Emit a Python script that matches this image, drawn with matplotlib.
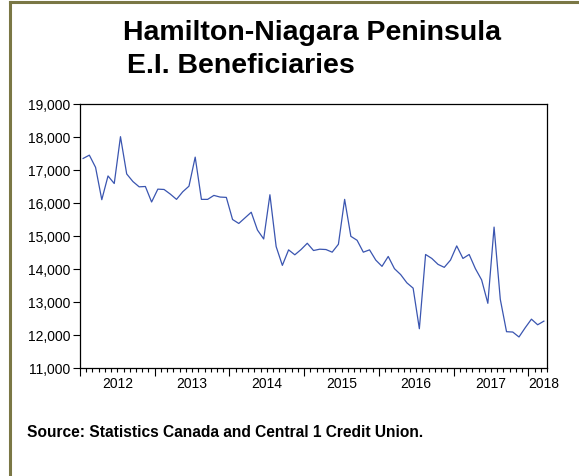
import numpy as np
import pandas as pd
import matplotlib
matplotlib.use("Agg")
import matplotlib.pyplot as plt
from matplotlib.lines import Line2D
from matplotlib.ticker import FuncFormatter, MultipleLocator
import matplotlib.transforms as mtransforms

plt.rcParams['font.family'] = ['Liberation Sans', 'DejaVu Sans']

# monthly E.I. beneficiaries, Jan 2012 - Mar 2018
y2012 = [17350, 17450, 17080, 16100, 16820, 16590, 18010, 16880, 16650, 16490, 16500, 16030]
y2013 = [16420, 16410, 16270, 16110, 16340, 16510, 17390, 16110, 16110, 16230, 16180, 16170]
y2014 = [15500, 15380, 15550, 15720, 15180, 14910, 16250, 14680, 14110, 14580, 14430, 14590]
y2015 = [14780, 14560, 14600, 14590, 14510, 14750, 16110, 14990, 14870, 14510, 14580, 14270]
y2016 = [14080, 14380, 14010, 13830, 13580, 13420, 12190, 14440, 14320, 14140, 14050, 14270]
y2017 = [14700, 14320, 14440, 14010, 13670, 12960, 15270, 13080, 12100, 12090, 11940, 12220]
y2018 = [12480, 12310, 12420]
values = y2012 + y2013 + y2014 + y2015 + y2016 + y2017 + y2018

months = pd.period_range("2012-01", periods=len(values), freq="M")
# each observation drawn in the middle of its month
x = months.year + (months.month - 0.5) / 12.0

year_labels = ["2012", "2013", "2014", "2015", "2016", "2017", "2018"]

fig = plt.figure(figsize=(5.79, 4.77), dpi=100)
ax = fig.add_axes([80/579, 108/477, 467/579, 264/477])

ax.plot(x, values, color="#3a55b0", lw=0.9)

ax.set_xlim(2012, 2012 + len(values) / 12.0)
ax.set_ylim(11000, 19000)
ax.yaxis.set_major_locator(MultipleLocator(1000))
ax.yaxis.set_major_formatter(FuncFormatter(lambda v, p: f"{int(v):,}"))
ax.tick_params(axis="y", direction="out", length=5, width=0.8, labelsize=10, pad=2)

ax.set_xticks(np.arange(2012, 2019))
ax.set_xticklabels([])
ax.xaxis.set_minor_locator(MultipleLocator(1 / 12.0))
ax.tick_params(axis="x", which="major", direction="out", length=6, width=0.8)
ax.tick_params(axis="x", which="minor", direction="out", length=3, width=0.8)

trans = mtransforms.blended_transform_factory(ax.transData, ax.transAxes)
for lab in year_labels:
    yr = int(lab)
    xp = yr + 0.5 if yr < 2018 else x[-1]
    ax.text(xp, -0.032, lab, transform=trans, ha="center", va="top", fontsize=10)

for s in ax.spines.values():
    s.set_linewidth(0.9)
    s.set_color("black")

fig.text(312/579, 1 - 40/477, "Hamilton-Niagara Peninsula", ha="center", va="baseline",
         fontsize=20.5, fontweight="bold")
fig.text(127/579, 1 - 73/477, "E.I. Beneficiaries", ha="left", va="baseline",
         fontsize=20.5, fontweight="bold")
fig.text(27/579, 1 - 433/477, "Source: Statistics Canada and Central 1 Credit Union.",
         ha="left", va="center", fontsize=11.2, fontweight="bold")

# olive frame along top and left edges
frame_col = "#7a7745"
fig.add_artist(Line2D([10/579, 1], [1 - 3/477, 1 - 3/477], transform=fig.transFigure,
                      color=frame_col, lw=2.2))
fig.add_artist(Line2D([10/579, 10/579], [0, 1 - 3/477], transform=fig.transFigure,
                      color=frame_col, lw=2.2))

fig.savefig("out.png", dpi=100)
